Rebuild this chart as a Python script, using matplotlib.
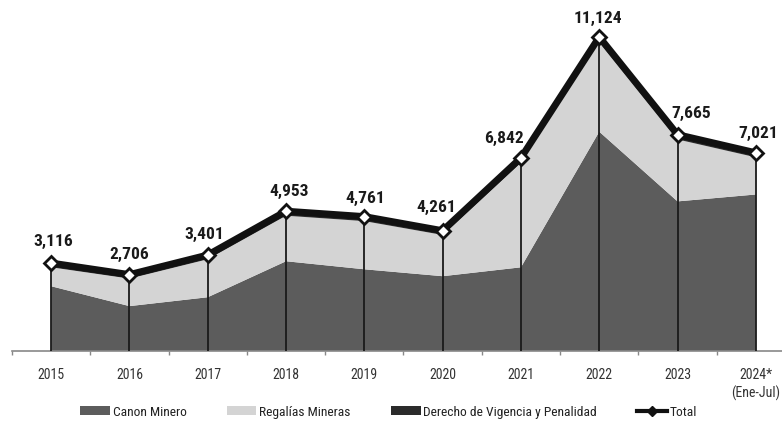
import matplotlib
matplotlib.use("Agg")
import matplotlib.pyplot as plt
from matplotlib.patches import Patch
from matplotlib.lines import Line2D
from matplotlib import font_manager as fm
import numpy as np

years = ["2015", "2016", "2017", "2018", "2019", "2020", "2021", "2022", "2023", "2024*\n(Ene-Jul)"]
total = [3116, 2706, 3401, 4953, 4761, 4261, 6842, 11124, 7665, 7021]
canon = [2295, 1590, 1905, 3180, 2895, 2650, 2965, 7770, 5300, 5545]
derecho = [150, 140, 150, 160, 160, 150, 170, 180, 170, 160]
regalias = [t - c - d for t, c, d in zip(total, canon, derecho)]
total_labels = ["3,116", "2,706", "3,401", "4,953", "4,761", "4,261", "6,842", "11,124", "7,665", "7,021"]

names = set(f.name for f in fm.fontManager.ttflist)
prefs = ["Liberation Sans Narrow", "Arial Narrow", "Roboto Condensed", "Archivo Narrow",
         "PT Sans Narrow", "IBM Plex Sans Condensed", "Open Sans Condensed", "Liberation Sans"]
fam = next(p for p in prefs if p in names)
plt.rcParams['font.family'] = [fam, 'DejaVu Sans']

W, H = 782, 423
fig = plt.figure(figsize=(W / 100, H / 100), dpi=100)
left_px, base_px = 12, 351
ax = fig.add_axes([left_px / W, (H - base_px) / H, (W - left_px) / W, base_px / H])

x = np.arange(len(years))
c_canon = "#5c5c5c"
c_reg = "#d4d4d4"
c_der = "#2b2b2b"
ax.stackplot(x, canon, regalias, derecho, colors=[c_canon, c_reg, c_der], linewidth=0)

# drop lines
ax.vlines(x, 0, total, colors="#1a1a1a", linewidth=1.3, zorder=3)

ax.plot(x, total, color="#111111", linewidth=5, zorder=4, solid_joinstyle="round")
ax.plot(x, total, linestyle="none", marker="D", markersize=7.5, markerfacecolor="white",
        markeredgecolor="#111111", markeredgewidth=2, zorder=5)

# label offsets in pixels (dx right, dy up) relative to the marker
lab_dx = [2, 0, -3, 3, 1, -6, -17, -1, 14, 2]
lab_dy = [22, 20, 21, 20, 18, 23, 19, 19, 21, 19]
px2pt = 72 / 100
for xi, t, lab, dx, dy in zip(x, total, total_labels, lab_dx, lab_dy):
    ax.annotate(lab, (xi, t), xytext=(dx * px2pt, dy * px2pt), textcoords="offset points",
                ha="center", va="center", fontsize=12.5, fontweight="bold", color="#1a1a1a",
                zorder=6)

for s in ["top", "right", "left"]:
    ax.spines[s].set_visible(False)
ax.spines["bottom"].set_color("#888888")
ax.spines["bottom"].set_linewidth(1.2)
ax.set_yticks([])
ax.set_xticks(x)
ax.set_xticklabels(years, fontsize=10, color="#333333", va="top", linespacing=1.3)
ax.tick_params(axis="x", which="major", length=0, pad=12)
ax.set_xticks(np.arange(-0.5, 9.4, 1), minor=True)
ax.tick_params(axis="x", which="minor", length=3, color="#888888", width=1)

span = (W - left_px) / 78.3
ax.set_xlim(-0.5, -0.5 + span)
ax.set_ylim(0, 11124 * base_px / (base_px - 37))

handles = [Patch(facecolor=c_canon, edgecolor="none", label="Canon Minero"),
           Patch(facecolor=c_reg, edgecolor="none", label="Regalías Mineras"),
           Patch(facecolor=c_der, edgecolor="none", label="Derecho de Vigencia y Penalidad"),
           Line2D([0], [0], color="#111111", linewidth=3, marker="D", markersize=5,
                  markerfacecolor="#111111", label="Total")]
leg = fig.legend(handles=handles, loc="center", bbox_to_anchor=(0.497, (H - 412) / H), ncol=4,
                 frameon=False, fontsize=9.7, handlelength=2.2, handleheight=0.6,
                 columnspacing=3.0, handletextpad=0.2)
for t in leg.get_texts():
    t.set_color("#222222")

fig.savefig("out.png", dpi=100)
